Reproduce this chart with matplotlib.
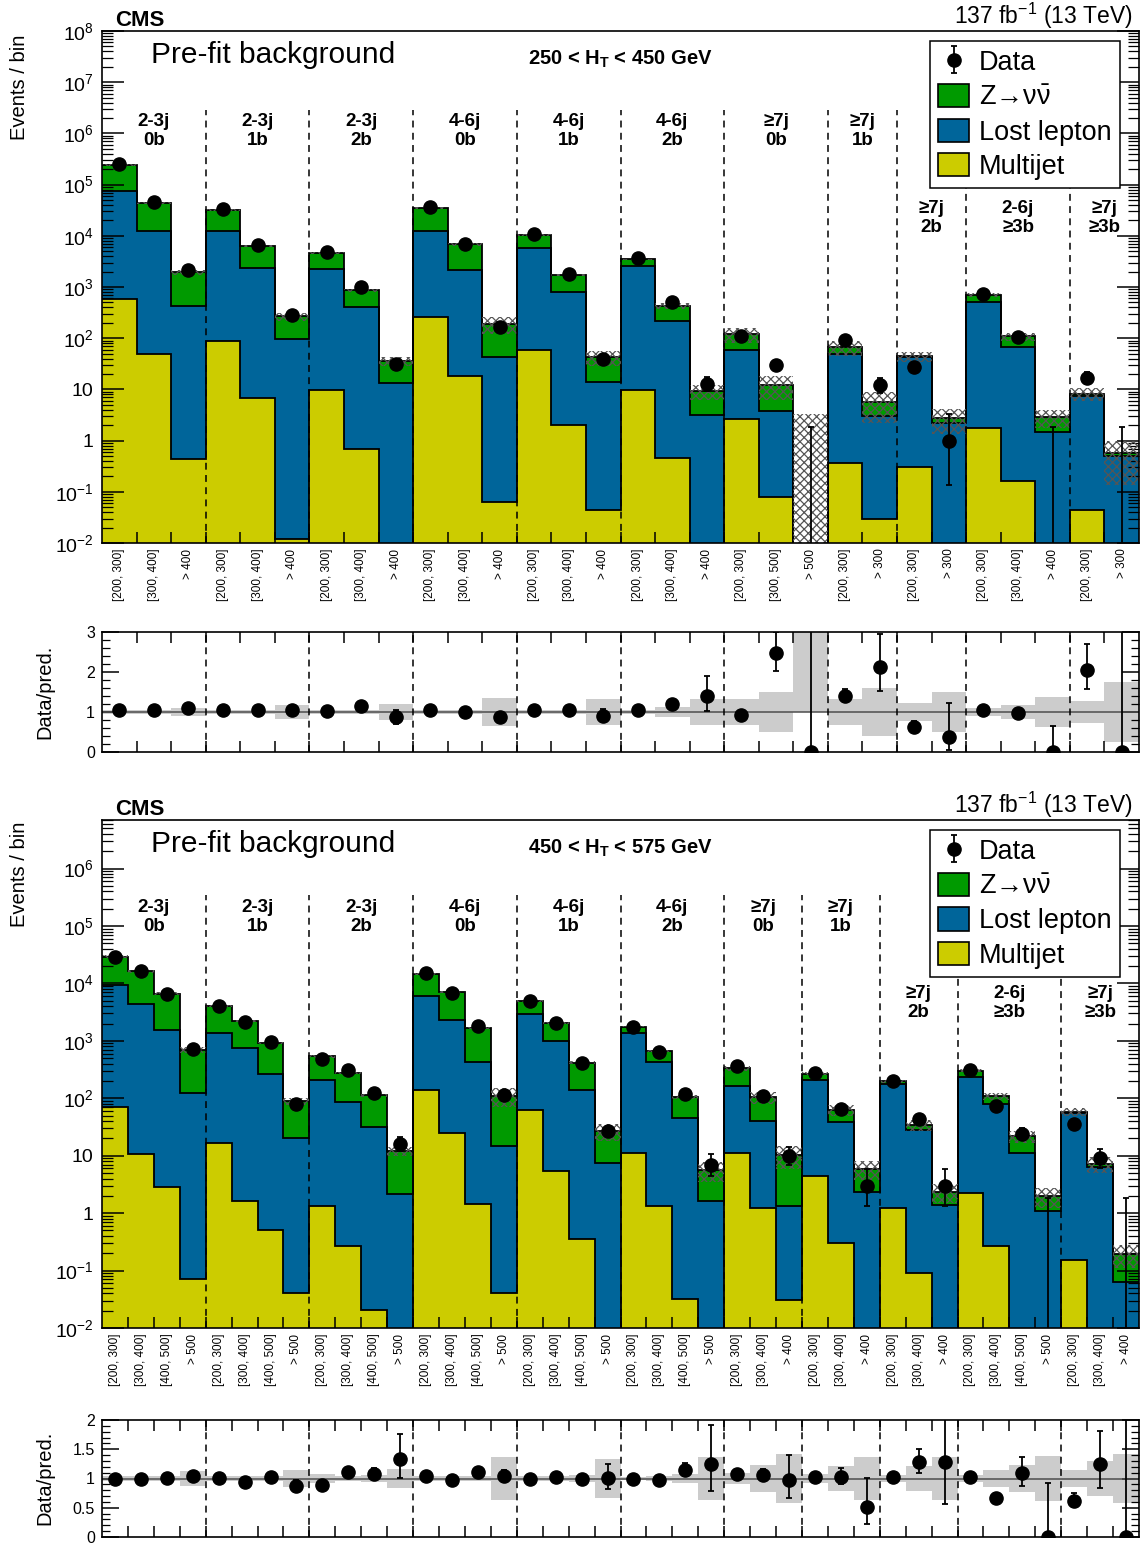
import numpy as np
import matplotlib
matplotlib.use('Agg')
import matplotlib.pyplot as plt
from matplotlib.patches import Patch
from matplotlib.transforms import blended_transform_factory
from matplotlib.ticker import FuncFormatter, LogLocator, NullFormatter, MultipleLocator, FixedLocator

plt.rcParams['font.family'] = ['Liberation Sans', 'DejaVu Sans']
plt.rcParams['mathtext.fontset'] = 'custom'
plt.rcParams['mathtext.rm'] = 'Liberation Sans'
plt.rcParams['mathtext.it'] = 'Liberation Sans:italic'
plt.rcParams['mathtext.bf'] = 'Liberation Sans:bold'
plt.rcParams['hatch.linewidth'] = 0.9
plt.rcParams['hatch.color'] = '#555555'

C_MJ = '#cccc00'
C_LL = '#00659a'
C_ZNN = '#009a00'
C_BAND = '#cccccc'

# ---------------- 250 < HT < 450 GeV ----------------
top_groups = ['2-3j\n0b', '2-3j\n1b', '2-3j\n2b', '4-6j\n0b', '4-6j\n1b', '4-6j\n2b',
              '≥7j\n0b', '≥7j\n1b', '≥7j\n2b', '2-6j\n≥3b', '≥7j\n≥3b']
top_nbins = [3, 3, 3, 3, 3, 3, 3, 2, 2, 3, 2]
top_low_groups = [8, 9, 10]
top_bin_labels = (['[200, 300]', '[300, 400]', '> 400'] * 6
                  + ['[200, 300]', '[300, 500]', '> 500']
                  + ['[200, 300]', '> 300'] * 2
                  + ['[200, 300]', '[300, 400]', '> 400']
                  + ['[200, 300]', '> 300'])
top_mj = [580, 50, 0.44, 90, 6.7, 0.012, 9.6, 0.69, 0, 255, 18, 0.064, 60, 2.0, 0.044,
          9.8, 0.46, 0, 2.6, 0.08, 0, 0.36, 0.03, 0.31, 0, 1.8, 0.16, 0, 0.044, 0]
top_ll = [74000, 12300, 430, 12300, 2360, 96, 2240, 406, 13.3, 12100, 2110, 42, 5770, 790, 14,
          2590, 220, 3.2, 55, 3.7, 0, 48, 3.0, 42, 2.2, 500, 67, 1.5, 7.4, 0.5]
top_znn = [165000, 31600, 1500, 19300, 3900, 173, 2370, 460, 22.6, 22300, 4720, 149, 4370, 925, 29,
           860, 210, 6.1, 62, 8.4, 0, 18.5, 2.6, 2.2, 0.54, 196, 42, 1.4, 0.8, 0.07]
top_data = [254000, 45800, 2140, 32900, 6510, 280, 4790, 1005, 31, 36000, 6920, 166, 10800, 1800, 39,
            3630, 512, 13, 112, 30, 0, 94, 12, 28, 1, 733, 106, 0, 17, 0]
top_unc = [0.05, 0.04, 0.10, 0.04, 0.04, 0.18, 0.05, 0.06, 0.20, 0.05, 0.06, 0.36, 0.04, 0.05, 0.33,
           0.04, 0.12, 0.33, 0.33, 0.50, np.inf, 0.33, 0.60, 0.22, 0.50, 0.10, 0.18, 0.38, 0.28, 0.76]
top_empty_unc = 3.3

# ---------------- 450 < HT < 575 GeV ----------------
bot_groups = top_groups
bot_nbins = [4, 4, 4, 4, 4, 4, 3, 3, 3, 4, 3]
bot_low_groups = [8, 9, 10]
bot_bin_labels = (['[200, 300]', '[300, 400]', '[400, 500]', '> 500'] * 6
                  + ['[200, 300]', '[300, 400]', '> 400'] * 3
                  + ['[200, 300]', '[300, 400]', '[400, 500]', '> 500']
                  + ['[200, 300]', '[300, 400]', '> 400'])
bot_mj = [70.6, 10.5, 2.83, 0.070, 16.9, 1.6, 0.50, 0.041, 1.35, 0.264, 0.0206, 0,
          141, 24.4, 1.46, 0.041, 63.4, 5.4, 0.36, 0, 11.3, 1.35, 0.032, 0,
          11.3, 1.21, 0.031, 4.36, 0.30, 0, 1.24, 0.090, 0, 2.25, 0.264, 0, 0, 0.155, 0, 0]
bot_ll = [9220, 4290, 1527, 125, 1340, 743, 264, 20, 206, 86, 32, 2.18,
          5800, 2266, 432, 14.9, 2817, 977, 137, 7.5, 1366, 420, 45.9, 1.63,
          154, 39.4, 1.3, 200, 38.4, 2.35, 174, 27.5, 1.37, 236, 80.7, 11, 1.09, 55.8, 6.4, 0.063]
bot_znn = [20110, 11900, 5090, 564, 2693, 1510, 658, 70, 332, 188, 82, 9.8,
           8760, 4750, 1226, 95, 2140, 1043, 278, 19.3, 385, 237, 59, 4.0,
           169, 64, 8.9, 65, 24.3, 3.55, 23, 6.7, 0.98, 62, 29, 10.9, 0.93, 1.8, 0.84, 0.13]
bot_data = [29400, 16200, 6620, 723, 4050, 2120, 951, 78, 480, 307, 122, 16,
            15400, 6900, 1830, 114, 5020, 2070, 415, 27, 1760, 645, 121, 7,
            361, 110, 10, 277, 65, 3, 202, 44, 3, 306, 74, 24, 0, 36, 9, 0]
bot_unc = [0.05, 0.05, 0.05, 0.12, 0.04, 0.04, 0.05, 0.14, 0.07, 0.05, 0.06, 0.17,
           0.04, 0.04, 0.05, 0.37, 0.04, 0.04, 0.06, 0.34, 0.03, 0.04, 0.08, 0.37,
           0.10, 0.23, 0.42, 0.07, 0.22, 0.37, 0.06, 0.21, 0.37, 0.06, 0.14, 0.23, 0.38, 0.15, 0.30, 0.42]
bot_empty_unc = 0.0

FLOOR = 1e-6


def poisson_err(n):
    n = np.asarray(n, float)
    lo = np.where(n > 0, np.sqrt(np.maximum(n - 0.25, 0)), 0.0)
    hi = np.sqrt(n + 0.75) + 1
    return lo, hi


def logfmt(v, pos):
    e = int(round(np.log10(v)))
    if e == 0:
        return '1'
    if e == 1:
        return '10'
    return r'$10^{%d}$' % e


def group_layout(ax, nbins, groups, low_groups, line_hi, line_lo, lab_hi, lab_lo, labels=True):
    starts = np.concatenate([[0], np.cumsum(nbins)])
    trans = blended_transform_factory(ax.transData, ax.transAxes)
    for k in range(len(nbins) - 1):
        ytop = line_lo if k in low_groups else line_hi
        ax.plot([starts[k + 1]] * 2, [0, ytop], transform=trans, color='k',
                ls=(0, (4.5, 3.5)), lw=1.1, zorder=6)
    if labels:
        for gi, g in enumerate(groups):
            xc = 0.5 * (starts[gi] + starts[gi + 1])
            yl = lab_lo if gi in low_groups else lab_hi
            ax.text(xc, yl, g, transform=trans, ha='center', va='center', fontsize=13.5,
                    fontweight='bold', linespacing=1.2, zorder=7)


def draw_main(ax, mj, ll, znn, data, unc, empty_unc, ymax, ht_text, nbins, groups,
              bin_labels, low_groups, line_hi, line_lo, lab_hi, lab_lo):
    n = len(mj)
    edges = np.arange(n + 1)
    x = edges[:-1] + 0.5
    c1 = np.array(mj, float)
    c2 = c1 + np.array(ll, float)
    c3 = c2 + np.array(znn, float)
    unc = np.array(unc, float)

    ax.stairs(np.maximum(c3, FLOOR), edges, baseline=np.maximum(c2, FLOOR), fill=True,
              color=C_ZNN, lw=0, zorder=1)
    ax.stairs(np.maximum(c2, FLOOR), edges, baseline=np.maximum(c1, FLOOR), fill=True,
              color=C_LL, lw=0, zorder=1)
    ax.stairs(np.maximum(c1, FLOOR), edges, baseline=FLOOR, fill=True,
              color=C_MJ, lw=0, zorder=1)
    for c in (c1, c2, c3):
        ax.stairs(np.maximum(c, FLOOR), edges, baseline=None, color='k', lw=1.3, zorder=2)

    with np.errstate(invalid='ignore'):
        band_hi = np.where(c3 > 0, c3 * (1 + np.where(np.isfinite(unc), unc, 0)), empty_unc)
        band_lo = np.where(c3 > 0, c3 * np.clip(1 - unc, 1e-3, None), FLOOR)
    band_hi = np.maximum(band_hi, FLOOR)
    ax.stairs(band_hi, edges, baseline=band_lo, fill=True, facecolor='none',
              edgecolor='#555555', hatch='xxxx', lw=0, zorder=3)

    d = np.array(data, float)
    elo, ehi = poisson_err(d)
    pos = d > 0
    h_data = ax.errorbar(x[pos], d[pos], yerr=[elo[pos], ehi[pos]], fmt='o', color='k', ms=9.5,
                         elinewidth=1.3, capsize=2.5, capthick=1.3, zorder=5, label='Data')
    ax.errorbar(x[~pos], np.full((~pos).sum(), FLOOR), yerr=[np.zeros((~pos).sum()), ehi[~pos]],
                fmt='none', ecolor='k', elinewidth=1.3, capsize=2.5, capthick=1.3, zorder=5)

    ax.set_yscale('log')
    ax.set_ylim(1e-2, ymax)
    ax.set_xlim(0, n)
    ax.yaxis.set_major_locator(LogLocator(base=10, numticks=30))
    ax.yaxis.set_minor_locator(LogLocator(base=10, subs=np.arange(2, 10), numticks=300))
    ax.yaxis.set_major_formatter(FuncFormatter(logfmt))
    ax.yaxis.set_minor_formatter(NullFormatter())
    ax.tick_params(axis='y', which='both', direction='in', left=True, right=True, labelsize=14, pad=6)
    ax.tick_params(axis='y', which='major', length=16, width=1.1)
    ax.tick_params(axis='y', which='minor', length=8, width=0.9)
    ax.set_xticks(x)
    ax.set_xticklabels(bin_labels, rotation=90, fontsize=8.5)
    ax.tick_params(axis='x', which='major', length=0, pad=4)
    ax.xaxis.set_minor_locator(FixedLocator(edges[1:-1]))
    ax.tick_params(axis='x', which='minor', direction='in', length=8, width=1.1, bottom=True, top=False)
    for s in ax.spines.values():
        s.set_linewidth(1.2)
        s.set_zorder(8)

    group_layout(ax, nbins, groups, low_groups, line_hi, line_lo, lab_hi, lab_lo)

    ax.text(0.0125, 1.0, 'CMS', transform=ax.transAxes, ha='left', va='bottom',
            fontsize=16, fontweight='bold')
    ax.text(0.994, 1.0, r'137 fb$^{-1}$ (13 TeV)', transform=ax.transAxes, ha='right',
            va='bottom', fontsize=16.5)
    ax.text(0.047, 0.953, 'Pre-fit background', transform=ax.transAxes, ha='left', va='center',
            fontsize=21.5, zorder=7)
    ax.text(0.5, 0.944, ht_text, transform=ax.transAxes, ha='center', va='center',
            fontsize=14.5, fontweight='bold', zorder=7)

    handles = [h_data,
               Patch(facecolor=C_ZNN, edgecolor='k', lw=1.2),
               Patch(facecolor=C_LL, edgecolor='k', lw=1.2),
               Patch(facecolor=C_MJ, edgecolor='k', lw=1.2)]
    leg = ax.legend(handles, ['Data', r'Z→ν$\bar{\mathrm{\nu}}$', 'Lost lepton', 'Multijet'],
                    loc='upper left', bbox_to_anchor=(0.7985, 0.98), fontsize=19.5,
                    frameon=True, fancybox=False, edgecolor='k', framealpha=1,
                    handlelength=1.15, handleheight=0.95, handletextpad=0.35,
                    labelspacing=0.28, borderpad=0.3, borderaxespad=0)
    leg.get_frame().set_linewidth(1.1)
    leg.set_zorder(9)
    return c3


def draw_ratio(ax, total, data, unc, ymax, major, minor, nbins, groups, low_groups):
    n = len(total)
    edges = np.arange(n + 1)
    x = edges[:-1] + 0.5
    d = np.array(data, float)
    unc = np.array(unc, float)
    elo, ehi = poisson_err(d)
    with np.errstate(divide='ignore', invalid='ignore'):
        r = np.where(total > 0, d / total, 0.0)
        rlo = np.where(total > 0, elo / total, 0.0)
        rhi = np.where(total > 0, ehi / total, 100.0)
    blo = np.where(np.isfinite(unc), 1 - unc, 1.0)
    bhi = np.where(np.isfinite(unc), 1 + unc, 100.0)
    ax.stairs(bhi, edges, baseline=blo, fill=True, color=C_BAND, lw=0, zorder=1)
    ax.axhline(1, color='#4d4d4d', lw=1.1, zorder=2)
    ax.errorbar(x, r, yerr=[rlo, rhi], fmt='o', color='k', ms=9.5, elinewidth=1.3,
                capsize=2.5, capthick=1.3, zorder=5)
    ax.set_xlim(0, n)
    ax.set_ylim(0, ymax)
    ax.yaxis.set_major_locator(MultipleLocator(major))
    ax.yaxis.set_minor_locator(MultipleLocator(minor))
    ax.yaxis.set_major_formatter(FuncFormatter(lambda v, p: ('%g' % v)))
    ax.tick_params(axis='y', which='both', direction='in', left=True, right=True, labelsize=11.5, pad=5)
    ax.tick_params(axis='y', which='major', length=12, width=1.1)
    ax.tick_params(axis='y', which='minor', length=6, width=0.9)
    ax.set_xticks([])
    ax.xaxis.set_minor_locator(FixedLocator(edges[1:-1]))
    ax.tick_params(axis='x', which='minor', direction='in', length=8, width=1.1,
                   bottom=True, top=True, labelbottom=False)
    for s in ax.spines.values():
        s.set_linewidth(1.2)
        s.set_zorder(8)
    group_layout(ax, nbins, groups, low_groups, 1.0, 1.0, 0, 0, labels=False)


W, H = 1140, 1545
fig = plt.figure(figsize=(W / 100, H / 100), dpi=100)


def box(x0, x1, y0, y1):
    return [x0 / W, 1 - y1 / H, (x1 - x0) / W, (y1 - y0) / H]


ax1 = fig.add_axes(box(102, 1139, 31, 543))
ax1r = fig.add_axes(box(102, 1139, 632, 752))
ax2 = fig.add_axes(box(102, 1139, 820, 1328))
ax2r = fig.add_axes(box(102, 1139, 1420, 1537))

tot1 = draw_main(ax1, top_mj, top_ll, top_znn, top_data, top_unc, top_empty_unc, 1e8,
                 r'250 < H$_{\mathbf{T}}$ < 450 GeV', top_nbins, top_groups, top_bin_labels,
                 top_low_groups, 0.846, 0.693, 0.805, 0.635)
draw_ratio(ax1r, tot1, top_data, top_unc, 3, 1, 0.2, top_nbins, top_groups, top_low_groups)

tot2 = draw_main(ax2, bot_mj, bot_ll, bot_znn, bot_data, bot_unc, bot_empty_unc, 7e6,
                 r'450 < H$_{\mathbf{T}}$ < 575 GeV', bot_nbins, bot_groups, bot_bin_labels,
                 bot_low_groups, 0.852, 0.715, 0.809, 0.64)
draw_ratio(ax2r, tot2, bot_data, bot_unc, 2, 0.5, 0.1, bot_nbins, bot_groups, bot_low_groups)

for yc in (35, 822):
    fig.text(20 / W, 1 - yc / H, 'Events / bin', rotation=90, ha='center', va='top', fontsize=14.5)
for yc in (692, 1478):
    fig.text(45 / W, 1 - yc / H, 'Data/pred.', rotation=90, ha='center', va='center', fontsize=14.5)

fig.savefig('out.png', dpi=100)
